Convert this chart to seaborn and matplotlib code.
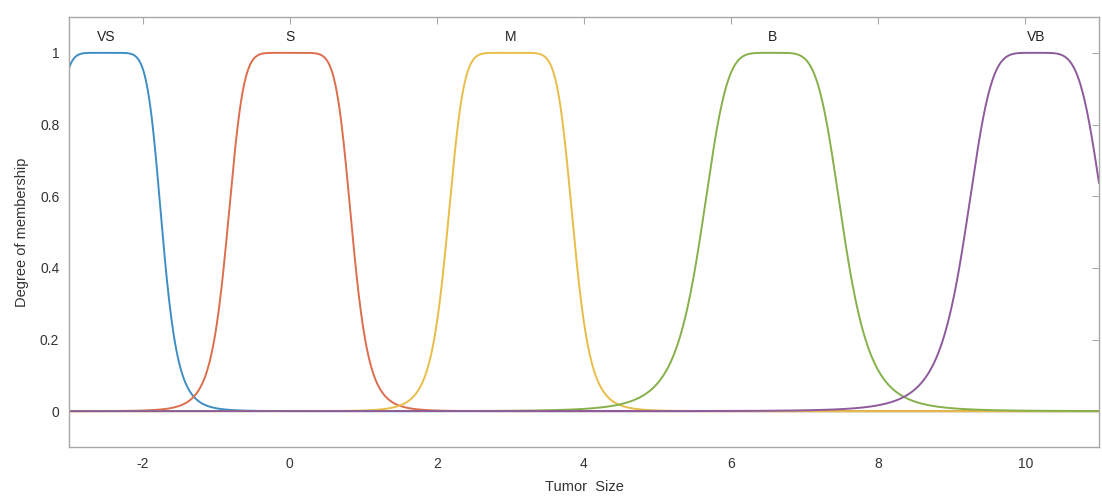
import numpy as np
import pandas as pd
import matplotlib
matplotlib.use("Agg")
import matplotlib.pyplot as plt
import seaborn as sns

# Membership function labels and generalized-bell parameters
mf_names = ["VS", "S", "M", "B", "VB"]
mf_centers = [-2.5, 0.0, 3.0, 6.56, 10.14]
mf_widths = [0.77, 0.85, 0.86, 0.97, 0.96]
mf_slopes = [3.6, 3.7, 3.7, 2.6, 2.55]
mf_colors = ["#3e8ec4", "#dc6e4e", "#e9bd4a", "#86b04a", "#8e5a9c"]

x_range = [-3, 11]
x_ticks = [-2, 0, 2, 4, 6, 8, 10]
y_ticks = [0, 0.2, 0.4, 0.6, 0.8, 1]
y_tick_labels = ["0", "0.2", "0.4", "0.6", "0.8", "1"]

sns.set_style("white")
plt.rcParams["font.family"] = ["Liberation Sans", "DejaVu Sans"]

xs = np.linspace(x_range[0], x_range[1], 1401)
frames = []
for name, c, a, b in zip(mf_names, mf_centers, mf_widths, mf_slopes):
    ys = 1.0 / (1.0 + np.abs((xs - c) / a) ** (2 * b))
    frames.append(pd.DataFrame({"x": xs, "y": ys, "mf": name}))
df = pd.concat(frames, ignore_index=True)

fig = plt.figure(figsize=(11.02, 4.97), dpi=100)
ax = fig.add_axes([69 / 1102, 1 - 447 / 497, (1099 - 69) / 1102, (447 - 17) / 497])

sns.lineplot(data=df, x="x", y="y", hue="mf", hue_order=mf_names,
             palette=mf_colors, linewidth=1.4, legend=False, ax=ax)

for name, c in zip(mf_names, mf_centers):
    ax.text(c, 1.045, name, ha="center", va="center", fontsize=10, color="#222222")

ax.set_xlim(x_range)
ax.set_ylim(-0.1, 1.1)
ax.set_xticks(x_ticks)
ax.set_xticklabels([str(t) for t in x_ticks])
ax.set_yticks(y_ticks)
ax.set_yticklabels(y_tick_labels)

for s in ax.spines.values():
    s.set_color("#a8a8a8")
    s.set_linewidth(1.0)
ax.tick_params(direction="in", length=5, width=0.8, color="#a8a8a8",
               top=True, right=True, labelsize=10, labelcolor="#333333", pad=7)

ax.set_xlabel("Tumor  Size", fontsize=10.5, color="#333333", labelpad=7)
ax.set_ylabel("Degree of membership", fontsize=10.5, color="#333333", labelpad=8)

fig.savefig("out.png", dpi=100)
